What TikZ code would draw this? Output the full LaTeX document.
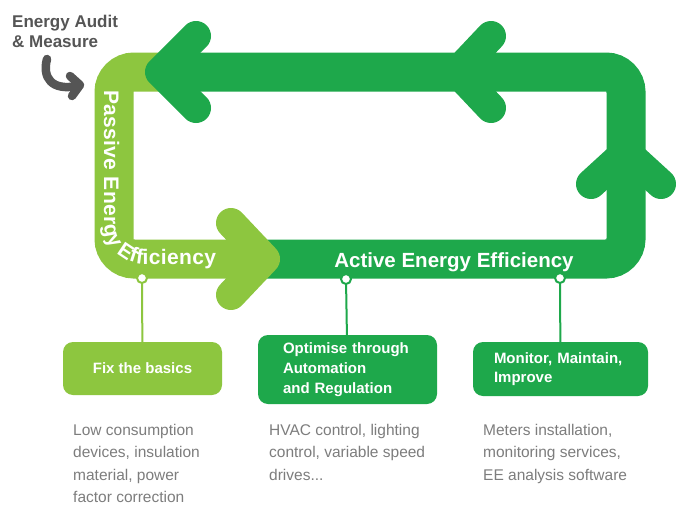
\documentclass[tikz,border=0pt]{standalone}
\usepackage{fontspec}
\setmainfont{Liberation Sans}
\usetikzlibrary{decorations.text}
\definecolor{dg}{RGB}{30,168,75}
\definecolor{lg}{RGB}{141,198,63}
\definecolor{ag}{RGB}{85,85,85}
\definecolor{tg}{RGB}{125,125,125}
\begin{document}
\begin{tikzpicture}[x=1pt,y=-1pt,
  band/.style={line width=39pt, rounded corners=20pt},
  chev/.style={line width=30pt, line cap=round, line join=round},
  dot/.style={circle, fill=white, draw=#1, line width=2pt, minimum size=10pt, inner sep=0pt},
  stem/.style={draw=#1, line width=2pt},
  box/.style={fill=#1, rounded corners=10pt, text=white, inner sep=0pt,
    font={\bfseries\fontsize{15}{19}\selectfont}},
  desc/.style={anchor=base west, align=left, text=tg, inner sep=0pt,
    font={\fontsize{15.5}{22.5}\selectfont}},
]
\useasboundingbox[fill=white] (0,0) rectangle (678,506);

% dark band (active + return)
\draw[dg, band] (262,259) -- (626,259) -- (626,72) -- (172,72);
% light band (passive)
\draw[lg, band] (172,72) -- (114,72) -- (114,259) -- (262,259);
% light arrow head
\draw[lg, chev] (231,223) -- (265,259) -- (231,295);
% dark arrow heads
\draw[dg, chev] (196,36) -- (160,72) -- (196,108);
\draw[dg, chev] (491,36) -- (457,72) -- (491,108);
\draw[dg, chev] (591,184) -- (626,152) -- (661,184);

% passive text along the band (path is the text baseline)
\path[rounded corners=40pt, decorate, decoration={text along path, raise=0pt,
  text align={fit to path},
  text={|\color{white}\bfseries\fontsize{21}{21}\selectfont|Passive Energy Efficiency}}]
  (104,90) -- (104,264) -- (216,264);

% active label
\node[anchor=base, text=white, inner sep=0pt, font={\bfseries\fontsize{20.5}{20.5}\selectfont}]
  (active) at (454,267) {Active Energy Efficiency};

% audit label and arrow
\node[anchor=base west, align=left, text=ag, inner sep=0pt, font={\bfseries\fontsize{17}{20}\selectfont}]
  (audit) at (12,47) {Energy Audit\\\& Measure};
\coordinate (aS) at (47,59);
\coordinate (aE) at (77,86);
\draw[ag, line width=8.5pt, line cap=round] (aS) .. controls (42,78) and (52,91) .. (aE);
\draw[ag, line width=8.5pt, line cap=round, line join=round] (70,76) -- (80,85) -- (72,96);

% dots
\node[dot=lg] (c1) at (142,278) {};
\node[dot=dg] (c2) at (346,279) {};
\node[dot=dg] (c3) at (560,278) {};

% boxes
\node[box=lg, minimum width=159pt, minimum height=53pt] (b1) at (142.5,368.5) {Fix the basics};
\node[box=dg, minimum width=179pt, minimum height=69pt, text width=129pt, align=left,
  font={\bfseries\fontsize{15}{20}\selectfont}]
  (b2) at (347.5,369.5) {Optimise through\\Automation\\and Regulation};
\node[box=dg, minimum width=175pt, minimum height=54pt, text width=133pt, align=left]
  (b3) at (560.5,369) {Monitor, Maintain,\\Improve};

\draw[stem=lg] (c1) -- (b1);
\draw[stem=dg] (c2) -- (b2);
\draw[stem=dg] (c3) -- (b3);

% descriptions (base = last line)
\node[desc] (d1) at (73,502.5) {Low consumption\\devices, insulation\\material, power\\factor correction};
\node[desc] (d2) at (269,480) {HVAC control, lighting\\control, variable speed\\drives...};
\node[desc] (d3) at (483,480) {Meters installation,\\monitoring services,\\EE analysis software};
\end{tikzpicture}
\end{document}
